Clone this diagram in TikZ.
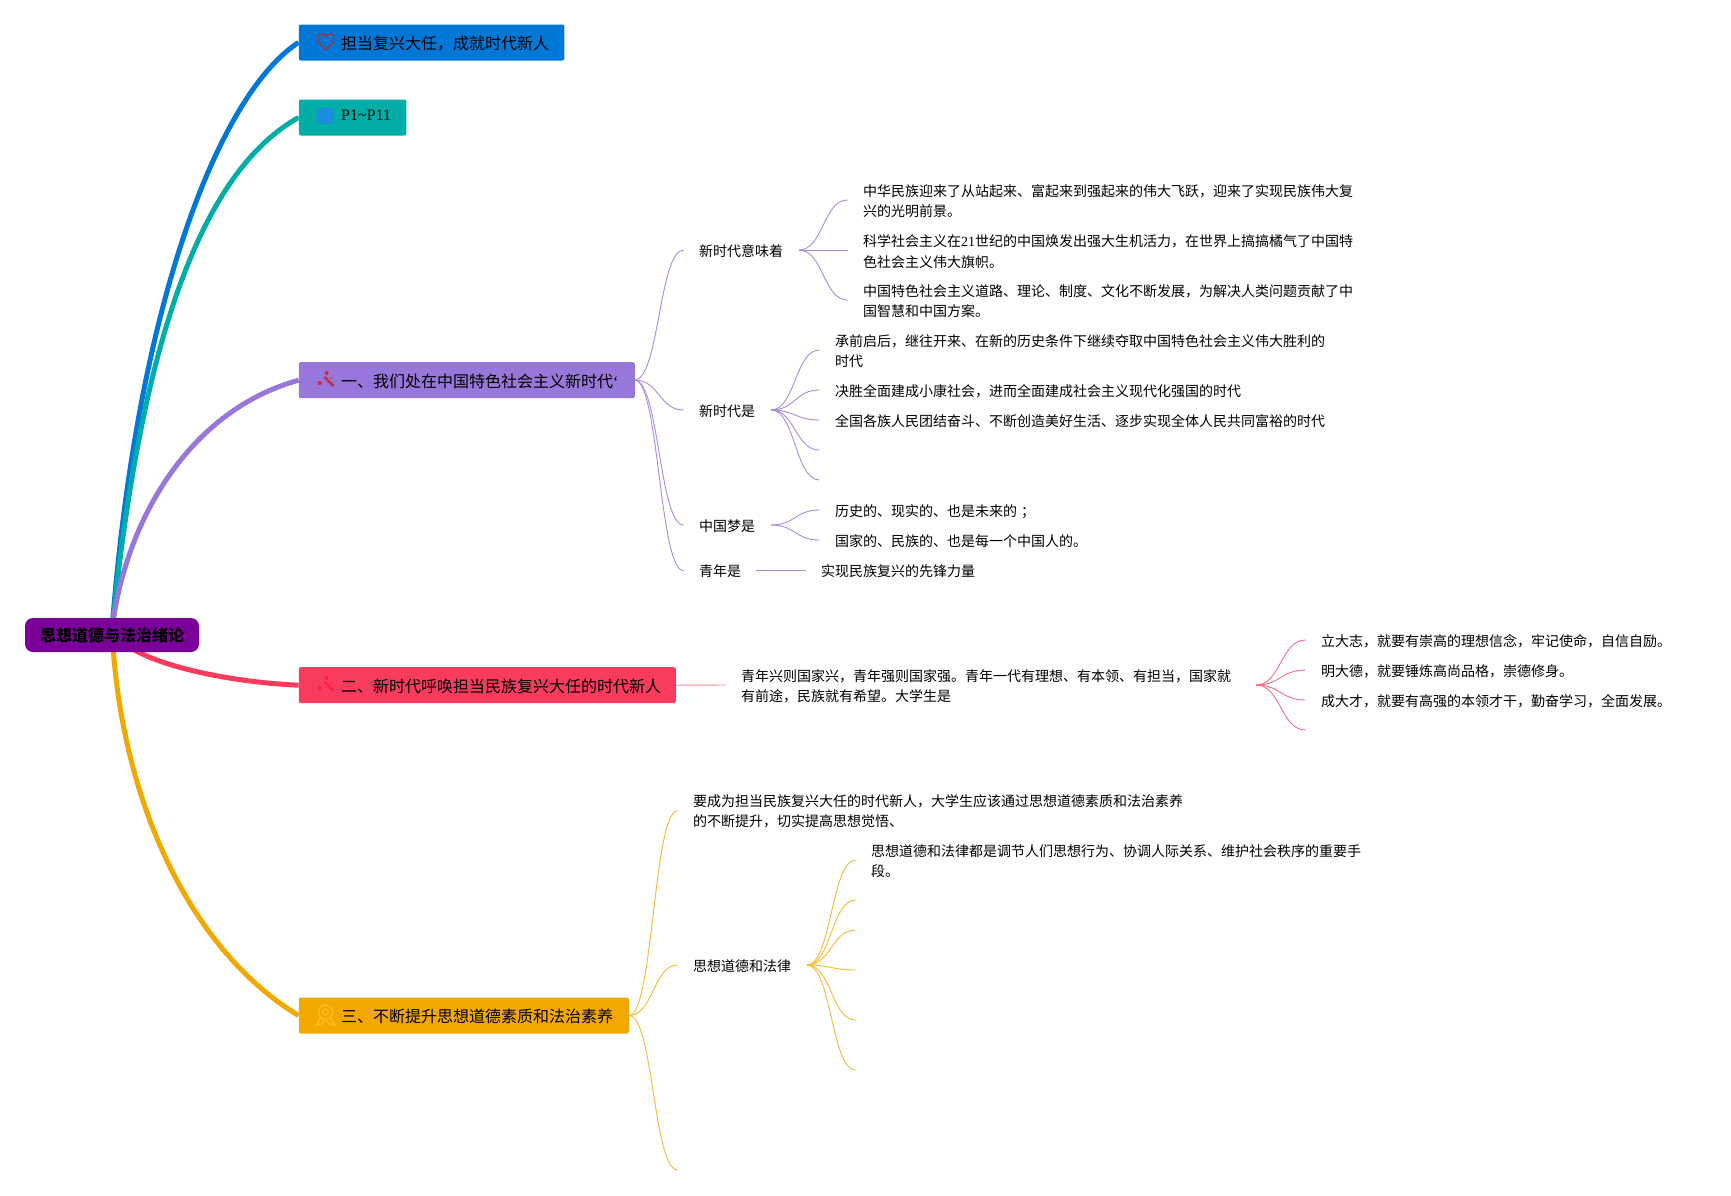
\documentclass[tikz,border=0pt]{standalone}
\usepackage{fontspec}
\setmainfont{Liberation Serif}
\newfontfamily\cjk{Noto Sans CJK SC}
\usetikzlibrary{calc}
\definecolor{cblue}{RGB}{0,120,215}
\definecolor{cteal}{RGB}{0,173,167}
\definecolor{cpurple}{RGB}{151,119,217}
\definecolor{cred}{RGB}{249,60,93}
\definecolor{corange}{RGB}{243,168,0}
\definecolor{croot}{RGB}{122,0,153}
\tikzset{
  x=1pt,y=-1pt,
  rootbox/.style={fill=croot,rounded corners=8pt,inner sep=0pt,minimum width=174pt,minimum height=34pt,font=\fontsize{16}{20}\cjk\bfseries},
  topbox/.style={rounded corners=2pt,inner sep=0pt,anchor=north west,minimum height=36pt,align=left,font=\fontsize{16}{20}\cjk},
  leaf/.style={anchor=west,inner sep=0pt,align=left,font=\fontsize{14}{20.3}\selectfont\cjk},
  mainlink/.style={line width=5pt},
  thin/.style={line width=0.9pt},
}
\newcommand{\fan}[3]{\draw[thin,#1] (#2) .. controls ($(#2)!0.5!(#3 |- #2)$) and ($(#2 |- #3)!0.5!(#3)$) .. (#3);}
\newcommand{\lat}[1]{{\rmfamily #1}}
\newcommand{\bt}[1]{\hspace*{42.4pt}\raisebox{0pt}[14.4pt][0pt]{#1}}
\begin{document}
\begin{tikzpicture}
\useasboundingbox (0,0) rectangle (1731,1195);
% top-level boxes
\coordinate (hub) at (112,630);
\node[topbox,fill=cblue,text width=265.6pt] (b1) at (298.6,24.3) {\bt{担当复兴大任，成就时代新人}};
\node[topbox,fill=cteal,text width=107.6pt] (b2) at (298.6,99.3) {\hspace*{42.4pt}\raisebox{5.5pt}{\fontsize{16}{20}\rmfamily P1{\char`\~}P11}};
\node[topbox,fill=cpurple,text width=336pt] (b3) at (298.6,362) {\bt{一、我们处在中国特色社会主义新时代\lat{‘}}};
\node[topbox,fill=cred,text width=377pt] (b4) at (298.6,667) {\bt{二、新时代呼唤担当民族复兴大任的时代新人}};
\node[topbox,fill=corange,text width=330pt] (b5) at (298.6,997.3) {\bt{三、不断提升思想道德素质和法治素养}};
% main links
\draw[mainlink,cblue] (hub) .. controls (138,290) and (224,90) .. (b1.west);
\draw[mainlink,cteal] (hub) .. controls (142,330) and (205,170) .. (b2.west);
\draw[mainlink,cpurple] (hub) .. controls (125,520) and (190,410) .. (b3.west);
\draw[mainlink,cred] (hub) .. controls (128,662) and (225,682) .. (b4.west);
\draw[mainlink,corange] (hub) .. controls (120,800) and (190,950) .. (b5.west);
\node[rootbox] (root) at (112,635) {思想道德与法治绪论};
% icons
\draw[line width=1.5pt,draw={rgb,255:red,155;green,55;blue,75}] (325.7,49.5) .. controls (320,44) and (317.5,42) .. (317.5,38.5) .. controls (317.5,33) and (324,32.5) .. (325.7,37) .. controls (327.5,32.5) and (334,33) .. (334,38.5) .. controls (334,42) and (331.5,44) .. (325.7,49.5) -- cycle;
\fill[fill={rgb,255:red,28;green,140;blue,220}] (316.7,107.7) rectangle (334,124.3);
\foreach \cx/\cy/\ic in {326.7/380/{rgb,255:red,205;green,40;blue,70},326.7/685/{rgb,255:red,250;green,30;blue,85}}{
  \draw[line width=2.4pt,draw/.expanded=\ic] (\cx-2,\cy-3) -- (\cx+7,\cy+6);
  \fill[fill/.expanded=\ic] (\cx-7,\cy+3) circle (2.2);
  \fill[fill/.expanded=\ic] (\cx,\cy-7) circle (2);
  \fill[fill/.expanded=\ic] (\cx+4.5,\cy-2) circle (1);
}
\begin{scope}[draw={rgb,255:red,252;green,190;blue,30},line width=1.5pt]
  \draw (325.5,1012) circle (7);
  \draw (325.5,1012) circle (3);
  \draw (320.5,1018) -- (316.5,1025) -- (321.5,1024) -- (324.5,1020);
  \draw (330.5,1018) -- (334.5,1025) -- (329.5,1024) -- (326.5,1020);
\end{scope}
% purple branch
\coordinate (p0) at (634.6,380);
\coordinate (pa) at (683.6,250);
\coordinate (pb) at (683.6,410);
\coordinate (pc) at (683.6,525);
\coordinate (pd) at (683.6,570.7);
\node[leaf] (n1) at (699,251) {新时代意味着};
\node[leaf] (n2) at (699,411) {新时代是};
\node[leaf] (n3) at (699,526) {中国梦是};
\node[leaf] (n4) at (699,571.5) {青年是};
\foreach \t in {pa,pb,pc,pd}{\fan{cpurple!85}{p0}{\t}}
\coordinate (f1) at (799,250);
\coordinate (f2) at (771,410);
\coordinate (f3) at (771,525);
\coordinate (g1) at (847.5,200);
\coordinate (g2) at (847.5,250);
\coordinate (g3) at (847.5,300);
\foreach \t in {g1,g2,g3}{\fan{cpurple!85}{f1}{\t}}
\coordinate (h1) at (819.4,350);
\coordinate (h2) at (819.4,390);
\coordinate (h3) at (819.4,420);
\coordinate (h4) at (819.4,450);
\coordinate (h5) at (819.4,480);
\foreach \t in {h1,h2,h3,h4,h5}{\fan{cpurple!85}{f2}{\t}}
\coordinate (i1) at (819.4,510);
\coordinate (i2) at (819.4,540);
\foreach \t in {i1,i2}{\fan{cpurple!85}{f3}{\t}}
\coordinate (j0) at (756,570.7);
\coordinate (j1) at (806,570.7);
\draw[thin,cpurple!85] (j0) -- (j1);
\node[leaf] (t1) at (863,201.2) {中华民族迎来了从站起来、富起来到强起来的伟大飞跃，迎来了实现民族伟大复\\兴的光明前景。};
\node[leaf] (t2) at (863,251.7) {科学社会主义在\lat{21}世纪的中国焕发出强大生机活力，在世界上搞搞橘气了中国特\\色社会主义伟大旗帜。};
\node[leaf] (t3) at (863,301.3) {中国特色社会主义道路、理论、制度、文化不断发展，为解决人类问题贡献了中\\国智慧和中国方案。};
\node[leaf] (t4) at (835,351.3) {承前启后，继往开来、在新的历史条件下继续夺取中国特色社会主义伟大胜利的\\时代};
\node[leaf] (t5) at (835,391.3) {决胜全面建成小康社会，进而全面建成社会主义现代化强国的时代};
\node[leaf] (t6) at (835,421.3) {全国各族人民团结奋斗、不断创造美好生活、逐步实现全体人民共同富裕的时代};
\node[leaf] (t7) at (835,512) {历史的、现实的、也是未来的\hspace*{4pt}；};
\node[leaf] (t8) at (835,541.5) {国家的、民族的、也是每一个中国人的。};
\node[leaf] (t9) at (821,571.5) {实现民族复兴的先锋力量};
% red branch
\coordinate (r0) at (b4.east);
\coordinate (r1) at (726,685);
\draw[thin,cred!65] (r0) -- (r1);
\node[leaf] (t10) at (741,686.5) {青年兴则国家兴，青年强则国家强。青年一代有理想、有本领、有担当，国家就\\有前途，民族就有希望。大学生是};
\coordinate (r2) at (1256,685);
\coordinate (ra) at (1305.5,640);
\coordinate (rb) at (1305.5,670);
\coordinate (rc) at (1305.5,700);
\coordinate (rd) at (1305.5,730);
\foreach \t in {ra,rb,rc,rd}{\fan{cred!75}{r2}{\t}}
\node[leaf] (t11) at (1321,641.3) {立大志，就要有崇高的理想信念，牢记使命，自信自励。};
\node[leaf] (t12) at (1321,671.3) {明大德，就要锤炼高尚品格，崇德修身。};
\node[leaf] (t13) at (1321,701.3) {成大才，就要有高强的本领才干，勤奋学习，全面发展。};
% orange branch
\coordinate (o0) at (b5.east);
\coordinate (oa) at (677.7,810.7);
\coordinate (ob) at (677.7,965);
\coordinate (oc) at (677.7,1170);
\foreach \t in {oa,ob,oc}{\fan{corange!80}{o0}{\t}}
\node[leaf] (t14) at (693,811.3) {要成为担当民族复兴大任的时代新人，大学生应该通过思想道德素质和法治素养\\的不断提升，切实提高思想觉悟、};
\node[leaf] (n5) at (693,966) {思想道德和法律};
\coordinate (q0) at (807,965);
\coordinate (qa) at (855.7,860);
\coordinate (qb) at (855.7,900);
\coordinate (qc) at (855.7,930);
\coordinate (qd) at (855.7,970);
\coordinate (qe) at (855.7,1020);
\coordinate (qf) at (855.7,1070);
\foreach \t in {qa,qb,qc,qd,qe,qf}{\fan{corange!80}{q0}{\t}}
\node[leaf] (t15) at (871,861.3) {思想道德和法律都是调节人们思想行为、协调人际关系、维护社会秩序的重要手\\段。};
\end{tikzpicture}
\end{document}
